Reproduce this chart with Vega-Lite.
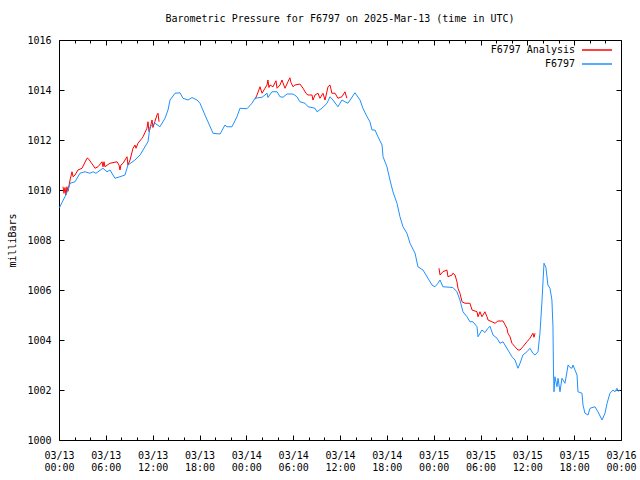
{
  "$schema": "https://vega.github.io/schema/vega-lite/v6.json",
  "width": 562,
  "height": 400,
  "autosize": "none",
  "padding": {"left": 59, "top": 40, "right": 19, "bottom": 40},
  "background": "white",
  "title": {"text": "Barometric Pressure for F6797 on 2025-Mar-13 (time in UTC)", "font": "DejaVu Sans Mono", "fontSize": 10, "fontWeight": "normal", "color": "black", "anchor": "middle", "offset": 11},
  "config": {
    "view": {"stroke": "black", "strokeWidth": 1},
    "axis": {"labelFont": "DejaVu Sans Mono", "labelFontSize": 10, "labelColor": "black", "titleFont": "DejaVu Sans Mono", "titleFontSize": 10, "titleFontWeight": "normal", "titleColor": "black", "tickColor": "black", "tickWidth": 1, "domain": false, "grid": false}
  },
  "datasets": {
    "obs": [
      {"t":"2025-03-13T00:04:00Z","p":1009.3},{"t":"2025-03-13T00:23:00Z","p":1009.5},{"t":"2025-03-13T00:46:00Z","p":1009.73},{"t":"2025-03-13T01:09:00Z","p":1010.0},{"t":"2025-03-13T01:25:00Z","p":1010.27},{"t":"2025-03-13T02:03:00Z","p":1010.33},{"t":"2025-03-13T02:41:00Z","p":1010.67},{"t":"2025-03-13T03:20:00Z","p":1010.73},{"t":"2025-03-13T03:58:00Z","p":1010.67},{"t":"2025-03-13T04:21:00Z","p":1010.73},{"t":"2025-03-13T04:44:00Z","p":1010.67},{"t":"2025-03-13T05:38:00Z","p":1010.87},{"t":"2025-03-13T06:09:00Z","p":1010.73},{"t":"2025-03-13T06:32:00Z","p":1010.8},{"t":"2025-03-13T06:55:00Z","p":1010.6},{"t":"2025-03-13T07:10:00Z","p":1010.47},{"t":"2025-03-13T07:49:00Z","p":1010.53},{"t":"2025-03-13T08:27:00Z","p":1010.6},{"t":"2025-03-13T08:50:00Z","p":1011.0},{"t":"2025-03-13T09:44:00Z","p":1011.2},{"t":"2025-03-13T10:23:00Z","p":1011.4},{"t":"2025-03-13T10:46:00Z","p":1011.6},{"t":"2025-03-13T11:24:00Z","p":1011.93},{"t":"2025-03-13T11:40:00Z","p":1012.53},{"t":"2025-03-13T12:18:00Z","p":1012.67},{"t":"2025-03-13T12:56:00Z","p":1012.53},{"t":"2025-03-13T13:35:00Z","p":1012.87},{"t":"2025-03-13T13:58:00Z","p":1013.2},{"t":"2025-03-13T14:13:00Z","p":1013.6},{"t":"2025-03-13T14:52:00Z","p":1013.87},{"t":"2025-03-13T15:30:00Z","p":1013.89},{"t":"2025-03-13T15:53:00Z","p":1013.67},{"t":"2025-03-13T16:32:00Z","p":1013.6},{"t":"2025-03-13T17:02:00Z","p":1013.7},{"t":"2025-03-13T17:41:00Z","p":1013.6},{"t":"2025-03-13T18:04:00Z","p":1013.47},{"t":"2025-03-13T18:42:00Z","p":1013.0},{"t":"2025-03-13T19:05:00Z","p":1012.73},{"t":"2025-03-13T19:44:00Z","p":1012.27},{"t":"2025-03-13T20:38:00Z","p":1012.24},{"t":"2025-03-13T21:16:00Z","p":1012.6},{"t":"2025-03-13T21:31:00Z","p":1012.53},{"t":"2025-03-13T22:10:00Z","p":1012.53},{"t":"2025-03-13T22:48:00Z","p":1012.93},{"t":"2025-03-13T23:11:00Z","p":1013.27},
      {"t":"2025-03-14T00:05:00Z","p":1013.25},{"t":"2025-03-14T00:43:00Z","p":1013.47},{"t":"2025-03-14T01:07:00Z","p":1013.67},{"t":"2025-03-14T02:01:00Z","p":1013.71},{"t":"2025-03-14T02:39:00Z","p":1013.87},{"t":"2025-03-14T02:46:00Z","p":1013.7},{"t":"2025-03-14T03:17:00Z","p":1013.93},{"t":"2025-03-14T03:56:00Z","p":1013.93},{"t":"2025-03-14T04:19:00Z","p":1013.73},{"t":"2025-03-14T04:42:00Z","p":1013.71},{"t":"2025-03-14T05:13:00Z","p":1013.84},{"t":"2025-03-14T05:59:00Z","p":1013.84},{"t":"2025-03-14T06:29:00Z","p":1013.73},{"t":"2025-03-14T06:52:00Z","p":1013.53},{"t":"2025-03-14T07:31:00Z","p":1013.47},{"t":"2025-03-14T07:54:00Z","p":1013.33},{"t":"2025-03-14T08:48:00Z","p":1013.27},{"t":"2025-03-14T09:03:00Z","p":1013.13},{"t":"2025-03-14T09:41:00Z","p":1013.27},{"t":"2025-03-14T10:20:00Z","p":1013.47},{"t":"2025-03-14T10:43:00Z","p":1013.73},{"t":"2025-03-14T11:06:00Z","p":1013.6},{"t":"2025-03-14T11:44:00Z","p":1013.33},{"t":"2025-03-14T12:15:00Z","p":1013.6},{"t":"2025-03-14T12:38:00Z","p":1013.53},{"t":"2025-03-14T13:01:00Z","p":1013.47},{"t":"2025-03-14T13:55:00Z","p":1013.89},{"t":"2025-03-14T14:34:00Z","p":1013.6},{"t":"2025-03-14T14:56:00Z","p":1013.27},{"t":"2025-03-14T15:28:00Z","p":1012.93},{"t":"2025-03-14T15:50:00Z","p":1012.73},{"t":"2025-03-14T16:06:00Z","p":1012.4},{"t":"2025-03-14T16:29:00Z","p":1012.4},{"t":"2025-03-14T16:52:00Z","p":1012.13},{"t":"2025-03-14T17:23:00Z","p":1011.8},{"t":"2025-03-14T17:31:00Z","p":1011.33},{"t":"2025-03-14T18:01:00Z","p":1010.93},{"t":"2025-03-14T18:24:00Z","p":1010.4},{"t":"2025-03-14T18:47:00Z","p":1009.93},{"t":"2025-03-14T19:18:00Z","p":1009.47},{"t":"2025-03-14T19:41:00Z","p":1008.93},{"t":"2025-03-14T20:04:00Z","p":1008.53},{"t":"2025-03-14T20:35:00Z","p":1008.27},{"t":"2025-03-14T20:58:00Z","p":1007.87},{"t":"2025-03-14T21:37:00Z","p":1007.47},{"t":"2025-03-14T21:59:00Z","p":1006.93},{"t":"2025-03-14T22:38:00Z","p":1006.8},{"t":"2025-03-14T23:16:00Z","p":1006.47},{"t":"2025-03-14T23:47:00Z","p":1006.2},
      {"t":"2025-03-15T00:10:00Z","p":1006.13},{"t":"2025-03-15T00:33:00Z","p":1006.27},{"t":"2025-03-15T00:49:00Z","p":1006.4},{"t":"2025-03-15T01:11:00Z","p":1006.13},{"t":"2025-03-15T02:28:00Z","p":1006.1},{"t":"2025-03-15T02:59:00Z","p":1005.93},{"t":"2025-03-15T03:22:00Z","p":1005.6},{"t":"2025-03-15T03:45:00Z","p":1005.13},{"t":"2025-03-15T04:16:00Z","p":1004.93},{"t":"2025-03-15T04:39:00Z","p":1004.73},{"t":"2025-03-15T05:02:00Z","p":1004.73},{"t":"2025-03-15T05:33:00Z","p":1004.53},{"t":"2025-03-15T05:41:00Z","p":1004.13},{"t":"2025-03-15T06:11:00Z","p":1004.4},{"t":"2025-03-15T06:34:00Z","p":1004.3},{"t":"2025-03-15T06:58:00Z","p":1004.47},{"t":"2025-03-15T07:13:00Z","p":1004.55},{"t":"2025-03-15T07:36:00Z","p":1004.2},{"t":"2025-03-15T08:07:00Z","p":1004.07},{"t":"2025-03-15T08:30:00Z","p":1003.87},{"t":"2025-03-15T08:53:00Z","p":1003.93},{"t":"2025-03-15T09:31:00Z","p":1003.6},{"t":"2025-03-15T10:02:00Z","p":1003.33},{"t":"2025-03-15T10:25:00Z","p":1003.2},{"t":"2025-03-15T10:48:00Z","p":1002.87},{"t":"2025-03-15T11:04:00Z","p":1003.07},{"t":"2025-03-15T11:26:00Z","p":1003.4},{"t":"2025-03-15T11:57:00Z","p":1003.53},{"t":"2025-03-15T12:20:00Z","p":1003.67},{"t":"2025-03-15T12:43:00Z","p":1003.47},{"t":"2025-03-15T12:59:00Z","p":1003.4},{"t":"2025-03-15T13:22:00Z","p":1003.53},{"t":"2025-03-15T13:37:00Z","p":1004.27},{"t":"2025-03-15T13:52:00Z","p":1005.5},{"t":"2025-03-15T14:08:00Z","p":1007.07},{"t":"2025-03-15T14:23:00Z","p":1006.9},{"t":"2025-03-15T14:38:00Z","p":1006.2},{"t":"2025-03-15T14:54:00Z","p":1006.07},{"t":"2025-03-15T15:09:00Z","p":1005.6},{"t":"2025-03-15T15:17:00Z","p":1004.53},{"t":"2025-03-15T15:21:00Z","p":1002.8},{"t":"2025-03-15T15:25:00Z","p":1001.93},{"t":"2025-03-15T15:32:00Z","p":1002.53},{"t":"2025-03-15T15:48:00Z","p":1002.13},{"t":"2025-03-15T15:56:00Z","p":1002.47},{"t":"2025-03-15T16:11:00Z","p":1001.93},{"t":"2025-03-15T16:26:00Z","p":1002.47},{"t":"2025-03-15T16:49:00Z","p":1002.27},{"t":"2025-03-15T17:05:00Z","p":1002.73},{"t":"2025-03-15T17:13:00Z","p":1003.0},{"t":"2025-03-15T17:28:00Z","p":1002.9},{"t":"2025-03-15T17:43:00Z","p":1002.87},{"t":"2025-03-15T17:51:00Z","p":1003.0},{"t":"2025-03-15T18:22:00Z","p":1002.6},{"t":"2025-03-15T18:29:00Z","p":1001.93},{"t":"2025-03-15T19:00:00Z","p":1001.87},{"t":"2025-03-15T19:08:00Z","p":1001.4},{"t":"2025-03-15T19:23:00Z","p":1001.07},{"t":"2025-03-15T19:46:00Z","p":1001.0},{"t":"2025-03-15T20:02:00Z","p":1001.27},{"t":"2025-03-15T20:40:00Z","p":1001.33},{"t":"2025-03-15T21:03:00Z","p":1001.13},{"t":"2025-03-15T21:34:00Z","p":1000.8},{"t":"2025-03-15T21:57:00Z","p":1001.07},{"t":"2025-03-15T22:13:00Z","p":1001.47},{"t":"2025-03-15T22:35:00Z","p":1001.87},{"t":"2025-03-15T22:59:00Z","p":1002.0},{"t":"2025-03-15T23:14:00Z","p":1001.93},{"t":"2025-03-15T23:29:00Z","p":1002.07},{"t":"2025-03-15T23:37:00Z","p":1001.95},{"t":"2025-03-15T23:52:00Z","p":1002.0}
    ],
    "ana": [
      {"t":"2025-03-13T00:31:00Z","p":1010.13,"g":1},{"t":"2025-03-13T00:38:00Z","p":1009.87,"g":1},{"t":"2025-03-13T00:46:00Z","p":1010.1,"g":1},{"t":"2025-03-13T00:54:00Z","p":1009.8,"g":1},{"t":"2025-03-13T01:01:00Z","p":1010.13,"g":1},{"t":"2025-03-13T01:09:00Z","p":1009.95,"g":1},{"t":"2025-03-13T01:25:00Z","p":1010.4,"g":1},{"t":"2025-03-13T01:40:00Z","p":1010.73,"g":1},{"t":"2025-03-13T01:48:00Z","p":1010.53,"g":1},{"t":"2025-03-13T02:03:00Z","p":1010.6,"g":1},{"t":"2025-03-13T02:26:00Z","p":1010.8,"g":1},{"t":"2025-03-13T02:57:00Z","p":1010.87,"g":1},{"t":"2025-03-13T03:35:00Z","p":1011.27,"g":1},{"t":"2025-03-13T03:43:00Z","p":1011.27,"g":1},{"t":"2025-03-13T04:14:00Z","p":1011.05,"g":1},{"t":"2025-03-13T04:37:00Z","p":1010.87,"g":1},{"t":"2025-03-13T05:00:00Z","p":1010.93,"g":1},{"t":"2025-03-13T05:31:00Z","p":1011.13,"g":1},{"t":"2025-03-13T05:38:00Z","p":1010.93,"g":1},{"t":"2025-03-13T05:46:00Z","p":1011.13,"g":1},{"t":"2025-03-13T05:53:00Z","p":1010.93,"g":1},{"t":"2025-03-13T06:32:00Z","p":1011.07,"g":1},{"t":"2025-03-13T07:26:00Z","p":1011.13,"g":1},{"t":"2025-03-13T07:41:00Z","p":1011.0,"g":1},{"t":"2025-03-13T07:49:00Z","p":1010.8,"g":1},{"t":"2025-03-13T07:56:00Z","p":1011.0,"g":1},{"t":"2025-03-13T08:12:00Z","p":1011.07,"g":1},{"t":"2025-03-13T08:43:00Z","p":1011.33,"g":1},{"t":"2025-03-13T08:50:00Z","p":1011.0,"g":1},{"t":"2025-03-13T09:06:00Z","p":1011.2,"g":1},{"t":"2025-03-13T09:29:00Z","p":1011.67,"g":1},{"t":"2025-03-13T09:44:00Z","p":1011.8,"g":1},{"t":"2025-03-13T09:52:00Z","p":1011.67,"g":1},{"t":"2025-03-13T10:07:00Z","p":1011.87,"g":1},{"t":"2025-03-13T10:38:00Z","p":1012.07,"g":1},{"t":"2025-03-13T10:46:00Z","p":1012.13,"g":1},{"t":"2025-03-13T11:16:00Z","p":1012.47,"g":1},{"t":"2025-03-13T11:24:00Z","p":1012.73,"g":1},{"t":"2025-03-13T11:32:00Z","p":1012.33,"g":1},{"t":"2025-03-13T11:40:00Z","p":1012.47,"g":1},{"t":"2025-03-13T11:55:00Z","p":1012.8,"g":1},{"t":"2025-03-13T12:02:00Z","p":1012.5,"g":1},{"t":"2025-03-13T12:18:00Z","p":1012.75,"g":1},{"t":"2025-03-13T12:33:00Z","p":1013.0,"g":1},{"t":"2025-03-13T12:41:00Z","p":1013.07,"g":1},{"t":"2025-03-13T12:49:00Z","p":1012.73,"g":1},
      {"t":"2025-03-14T01:07:00Z","p":1013.63,"g":2},{"t":"2025-03-14T01:22:00Z","p":1013.8,"g":2},{"t":"2025-03-14T01:45:00Z","p":1014.13,"g":2},{"t":"2025-03-14T02:01:00Z","p":1013.87,"g":2},{"t":"2025-03-14T02:23:00Z","p":1014.07,"g":2},{"t":"2025-03-14T02:39:00Z","p":1014.2,"g":2},{"t":"2025-03-14T02:46:00Z","p":1014.4,"g":2},{"t":"2025-03-14T02:54:00Z","p":1014.1,"g":2},{"t":"2025-03-14T03:02:00Z","p":1014.2,"g":2},{"t":"2025-03-14T03:25:00Z","p":1014.13,"g":2},{"t":"2025-03-14T03:48:00Z","p":1014.37,"g":2},{"t":"2025-03-14T03:56:00Z","p":1014.07,"g":2},{"t":"2025-03-14T04:19:00Z","p":1014.2,"g":2},{"t":"2025-03-14T04:34:00Z","p":1014.4,"g":2},{"t":"2025-03-14T04:57:00Z","p":1014.07,"g":2},{"t":"2025-03-14T05:20:00Z","p":1014.33,"g":2},{"t":"2025-03-14T05:35:00Z","p":1014.49,"g":2},{"t":"2025-03-14T05:43:00Z","p":1014.3,"g":2},{"t":"2025-03-14T05:59:00Z","p":1014.13,"g":2},{"t":"2025-03-14T06:14:00Z","p":1014.2,"g":2},{"t":"2025-03-14T06:52:00Z","p":1014.24,"g":2},{"t":"2025-03-14T07:16:00Z","p":1014.07,"g":2},{"t":"2025-03-14T07:38:00Z","p":1013.87,"g":2},{"t":"2025-03-14T07:54:00Z","p":1013.8,"g":2},{"t":"2025-03-14T08:25:00Z","p":1013.8,"g":2},{"t":"2025-03-14T08:32:00Z","p":1013.6,"g":2},{"t":"2025-03-14T08:48:00Z","p":1013.8,"g":2},{"t":"2025-03-14T09:11:00Z","p":1013.87,"g":2},{"t":"2025-03-14T09:26:00Z","p":1013.67,"g":2},{"t":"2025-03-14T09:49:00Z","p":1013.87,"g":2},{"t":"2025-03-14T10:05:00Z","p":1013.6,"g":2},{"t":"2025-03-14T10:28:00Z","p":1014.13,"g":2},{"t":"2025-03-14T10:43:00Z","p":1014.2,"g":2},{"t":"2025-03-14T10:58:00Z","p":1013.87,"g":2},{"t":"2025-03-14T11:22:00Z","p":1013.87,"g":2},{"t":"2025-03-14T11:44:00Z","p":1013.67,"g":2},{"t":"2025-03-14T12:15:00Z","p":1013.73,"g":2},{"t":"2025-03-14T12:38:00Z","p":1013.93,"g":2},{"t":"2025-03-14T12:53:00Z","p":1013.67,"g":2},
      {"t":"2025-03-15T00:41:00Z","p":1006.87,"g":3},{"t":"2025-03-15T00:49:00Z","p":1006.6,"g":3},{"t":"2025-03-15T01:11:00Z","p":1006.73,"g":3},{"t":"2025-03-15T01:42:00Z","p":1006.8,"g":3},{"t":"2025-03-15T01:50:00Z","p":1006.53,"g":3},{"t":"2025-03-15T02:21:00Z","p":1006.6,"g":3},{"t":"2025-03-15T02:28:00Z","p":1006.67,"g":3},{"t":"2025-03-15T02:44:00Z","p":1006.6,"g":3},{"t":"2025-03-15T02:59:00Z","p":1006.33,"g":3},{"t":"2025-03-15T03:07:00Z","p":1006.07,"g":3},{"t":"2025-03-15T03:22:00Z","p":1005.87,"g":3},{"t":"2025-03-15T03:38:00Z","p":1005.53,"g":3},{"t":"2025-03-15T04:01:00Z","p":1005.47,"g":3},{"t":"2025-03-15T04:39:00Z","p":1005.47,"g":3},{"t":"2025-03-15T04:55:00Z","p":1005.2,"g":3},{"t":"2025-03-15T05:33:00Z","p":1005.13,"g":3},{"t":"2025-03-15T05:41:00Z","p":1004.93,"g":3},{"t":"2025-03-15T05:56:00Z","p":1005.13,"g":3},{"t":"2025-03-15T06:11:00Z","p":1004.93,"g":3},{"t":"2025-03-15T06:34:00Z","p":1005.13,"g":3},{"t":"2025-03-15T06:50:00Z","p":1004.93,"g":3},{"t":"2025-03-15T06:58:00Z","p":1004.8,"g":3},{"t":"2025-03-15T07:28:00Z","p":1004.73,"g":3},{"t":"2025-03-15T07:52:00Z","p":1004.67,"g":3},{"t":"2025-03-15T08:14:00Z","p":1004.76,"g":3},{"t":"2025-03-15T08:53:00Z","p":1004.76,"g":3},{"t":"2025-03-15T09:23:00Z","p":1004.47,"g":3},{"t":"2025-03-15T09:31:00Z","p":1004.27,"g":3},{"t":"2025-03-15T09:47:00Z","p":1004.13,"g":3},{"t":"2025-03-15T10:02:00Z","p":1003.87,"g":3},{"t":"2025-03-15T10:25:00Z","p":1003.73,"g":3},{"t":"2025-03-15T10:48:00Z","p":1003.6,"g":3},{"t":"2025-03-15T11:04:00Z","p":1003.6,"g":3},{"t":"2025-03-15T11:26:00Z","p":1003.73,"g":3},{"t":"2025-03-15T11:57:00Z","p":1003.93,"g":3},{"t":"2025-03-15T12:20:00Z","p":1004.07,"g":3},{"t":"2025-03-15T12:43:00Z","p":1004.27,"g":3},{"t":"2025-03-15T12:51:00Z","p":1004.11,"g":3},{"t":"2025-03-15T12:59:00Z","p":1004.27,"g":3}
    ]
  },
  "layer": [
    {
      "data": {"name": "ana"},
      "mark": {"type": "line", "strokeWidth": 1},
      "encoding": {
        "x": {"field": "t", "type": "temporal", "scale": {"type": "utc", "domain": [{"year": 2025, "month": 3, "date": 13, "utc": true}, {"year": 2025, "month": 3, "date": 16, "utc": true}]},
          "axis": {"orient": "bottom", "title": null, "values": [
            {"year": 2025, "month": 3, "date": 13, "hours": 0, "utc": true}, {"year": 2025, "month": 3, "date": 13, "hours": 6, "utc": true}, {"year": 2025, "month": 3, "date": 13, "hours": 12, "utc": true}, {"year": 2025, "month": 3, "date": 13, "hours": 18, "utc": true},
            {"year": 2025, "month": 3, "date": 14, "hours": 0, "utc": true}, {"year": 2025, "month": 3, "date": 14, "hours": 6, "utc": true}, {"year": 2025, "month": 3, "date": 14, "hours": 12, "utc": true}, {"year": 2025, "month": 3, "date": 14, "hours": 18, "utc": true},
            {"year": 2025, "month": 3, "date": 15, "hours": 0, "utc": true}, {"year": 2025, "month": 3, "date": 15, "hours": 6, "utc": true}, {"year": 2025, "month": 3, "date": 15, "hours": 12, "utc": true}, {"year": 2025, "month": 3, "date": 15, "hours": 18, "utc": true},
            {"year": 2025, "month": 3, "date": 16, "hours": 0, "utc": true}],
            "tickSize": -5, "labelPadding": 15, "labelExpr": "[utcFormat(datum.value, '%m/%d'), utcFormat(datum.value, '%H:%M')]", "labelLineHeight": 12, "labelBaseline": "top", "labelOverlap": false, "labelFlush": false}},
        "y": {"field": "p", "type": "quantitative", "scale": {"domain": [1000, 1016], "nice": false, "zero": false},
          "axis": {"orient": "left", "values": [1000, 1002, 1004, 1006, 1008, 1010, 1012, 1014, 1016], "tickSize": -5, "labelPadding": 13, "format": "d", "title": "milliBars", "titleX": -47, "titleY": 200, "titleAngle": 270, "titleAlign": "center", "titleBaseline": "middle"}},
        "detail": {"field": "g", "type": "nominal"},
        "color": {"datum": "F6797 Analysis", "type": "nominal",
          "scale": {"domain": ["F6797 Analysis", "F6797"], "range": ["#ff0000", "#1e90ff"]},
          "legend": {"title": null, "orient": "none", "legendX": 532, "legendY": 4, "labelAlign": "right", "labelOffset": -28, "symbolType": "M-3,0H3", "symbolSize": 100, "symbolStrokeWidth": 1.5, "labelFont": "DejaVu Sans Mono", "labelFontSize": 10, "labelColor": "black", "rowPadding": 3, "padding": 0}}
      }
    },
    {
      "data": {"name": "obs"},
      "mark": {"type": "line", "strokeWidth": 1},
      "encoding": {
        "x": {"field": "t", "type": "temporal", "axis": {"orient": "top", "title": null, "values": [
            {"year": 2025, "month": 3, "date": 13, "hours": 0, "utc": true}, {"year": 2025, "month": 3, "date": 13, "hours": 6, "utc": true}, {"year": 2025, "month": 3, "date": 13, "hours": 12, "utc": true}, {"year": 2025, "month": 3, "date": 13, "hours": 18, "utc": true},
            {"year": 2025, "month": 3, "date": 14, "hours": 0, "utc": true}, {"year": 2025, "month": 3, "date": 14, "hours": 6, "utc": true}, {"year": 2025, "month": 3, "date": 14, "hours": 12, "utc": true}, {"year": 2025, "month": 3, "date": 14, "hours": 18, "utc": true},
            {"year": 2025, "month": 3, "date": 15, "hours": 0, "utc": true}, {"year": 2025, "month": 3, "date": 15, "hours": 6, "utc": true}, {"year": 2025, "month": 3, "date": 15, "hours": 12, "utc": true}, {"year": 2025, "month": 3, "date": 15, "hours": 18, "utc": true},
            {"year": 2025, "month": 3, "date": 16, "hours": 0, "utc": true}], "tickSize": -5, "labels": false}},
        "y": {"field": "p", "type": "quantitative", "axis": {"orient": "right", "values": [1000, 1002, 1004, 1006, 1008, 1010, 1012, 1014, 1016], "tickSize": -5, "labels": false, "title": null}},
        "color": {"datum": "F6797", "type": "nominal"}
      }
    },
    {
      "data": {"name": "obs"},
      "mark": {"type": "line", "opacity": 0},
      "encoding": {
        "x": {"field": "t", "type": "temporal", "axis": {"orient": "bottom", "title": null, "values": [
            {"year": 2025, "month": 3, "date": 13, "hours": 2, "utc": true}, {"year": 2025, "month": 3, "date": 13, "hours": 4, "utc": true}, {"year": 2025, "month": 3, "date": 13, "hours": 8, "utc": true}, {"year": 2025, "month": 3, "date": 13, "hours": 10, "utc": true}, {"year": 2025, "month": 3, "date": 13, "hours": 14, "utc": true}, {"year": 2025, "month": 3, "date": 13, "hours": 16, "utc": true}, {"year": 2025, "month": 3, "date": 13, "hours": 20, "utc": true}, {"year": 2025, "month": 3, "date": 13, "hours": 22, "utc": true},
            {"year": 2025, "month": 3, "date": 14, "hours": 2, "utc": true}, {"year": 2025, "month": 3, "date": 14, "hours": 4, "utc": true}, {"year": 2025, "month": 3, "date": 14, "hours": 8, "utc": true}, {"year": 2025, "month": 3, "date": 14, "hours": 10, "utc": true}, {"year": 2025, "month": 3, "date": 14, "hours": 14, "utc": true}, {"year": 2025, "month": 3, "date": 14, "hours": 16, "utc": true}, {"year": 2025, "month": 3, "date": 14, "hours": 20, "utc": true}, {"year": 2025, "month": 3, "date": 14, "hours": 22, "utc": true},
            {"year": 2025, "month": 3, "date": 15, "hours": 2, "utc": true}, {"year": 2025, "month": 3, "date": 15, "hours": 4, "utc": true}, {"year": 2025, "month": 3, "date": 15, "hours": 8, "utc": true}, {"year": 2025, "month": 3, "date": 15, "hours": 10, "utc": true}, {"year": 2025, "month": 3, "date": 15, "hours": 14, "utc": true}, {"year": 2025, "month": 3, "date": 15, "hours": 16, "utc": true}, {"year": 2025, "month": 3, "date": 15, "hours": 20, "utc": true}, {"year": 2025, "month": 3, "date": 15, "hours": 22, "utc": true}],
            "tickSize": -3, "labels": false}},
        "y": {"field": "p", "type": "quantitative", "axis": null}
      }
    },
    {
      "data": {"name": "obs"},
      "mark": {"type": "line", "opacity": 0},
      "encoding": {
        "x": {"field": "t", "type": "temporal", "axis": {"orient": "top", "title": null, "values": [
            {"year": 2025, "month": 3, "date": 13, "hours": 2, "utc": true}, {"year": 2025, "month": 3, "date": 13, "hours": 4, "utc": true}, {"year": 2025, "month": 3, "date": 13, "hours": 8, "utc": true}, {"year": 2025, "month": 3, "date": 13, "hours": 10, "utc": true}, {"year": 2025, "month": 3, "date": 13, "hours": 14, "utc": true}, {"year": 2025, "month": 3, "date": 13, "hours": 16, "utc": true}, {"year": 2025, "month": 3, "date": 13, "hours": 20, "utc": true}, {"year": 2025, "month": 3, "date": 13, "hours": 22, "utc": true},
            {"year": 2025, "month": 3, "date": 14, "hours": 2, "utc": true}, {"year": 2025, "month": 3, "date": 14, "hours": 4, "utc": true}, {"year": 2025, "month": 3, "date": 14, "hours": 8, "utc": true}, {"year": 2025, "month": 3, "date": 14, "hours": 10, "utc": true}, {"year": 2025, "month": 3, "date": 14, "hours": 14, "utc": true}, {"year": 2025, "month": 3, "date": 14, "hours": 16, "utc": true}, {"year": 2025, "month": 3, "date": 14, "hours": 20, "utc": true}, {"year": 2025, "month": 3, "date": 14, "hours": 22, "utc": true},
            {"year": 2025, "month": 3, "date": 15, "hours": 2, "utc": true}, {"year": 2025, "month": 3, "date": 15, "hours": 4, "utc": true}, {"year": 2025, "month": 3, "date": 15, "hours": 8, "utc": true}, {"year": 2025, "month": 3, "date": 15, "hours": 10, "utc": true}, {"year": 2025, "month": 3, "date": 15, "hours": 14, "utc": true}, {"year": 2025, "month": 3, "date": 15, "hours": 16, "utc": true}, {"year": 2025, "month": 3, "date": 15, "hours": 20, "utc": true}, {"year": 2025, "month": 3, "date": 15, "hours": 22, "utc": true}],
            "tickSize": -3, "labels": false}},
        "y": {"field": "p", "type": "quantitative", "axis": null}
      }
    }
  ],
  "resolve": {"axis": {"x": "independent", "y": "independent"}}
}
